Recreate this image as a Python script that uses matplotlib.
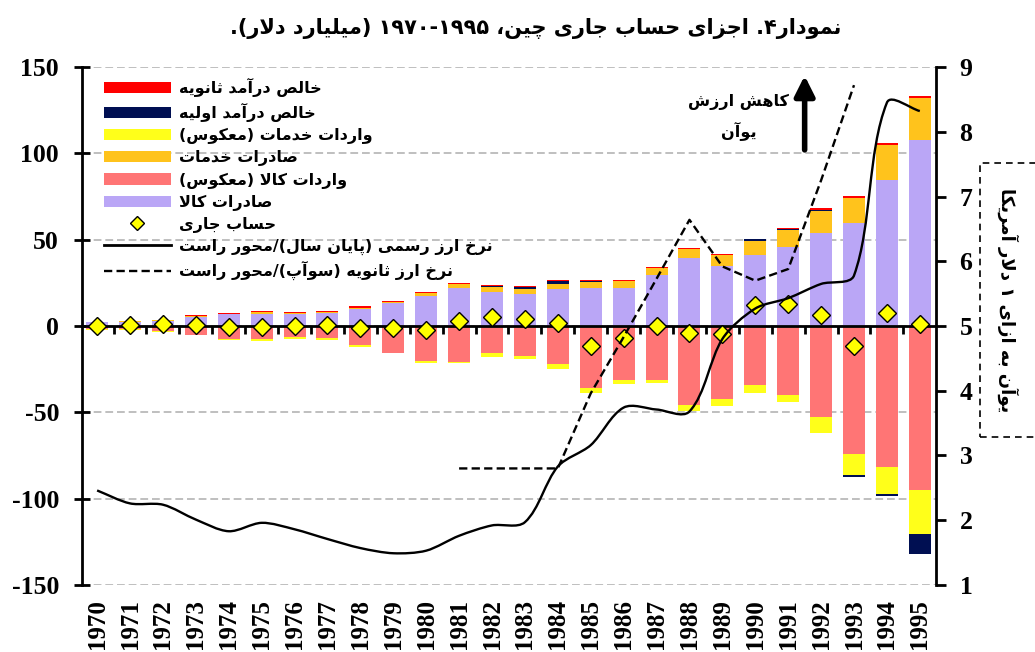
import matplotlib
matplotlib.use('Agg')
import matplotlib.pyplot as plt
import numpy as np
from matplotlib.path import Path
from matplotlib.patches import PathPatch, Rectangle
from matplotlib.lines import Line2D

plt.rcParams['axes.unicode_minus'] = False

# ---------------- data ----------------
years = list(range(1970, 1996))
goods_exports = [2.1, 2.4, 3.0, 5.3, 6.7, 7.2, 6.8, 7.6, 9.7, 13.5, 17.6, 22.2, 19.9,
                 18.7, 21.2, 22.2, 22.0, 29.7, 39.6, 34.7, 40.9, 45.8, 54.1, 59.7, 84.4, 107.5]
services_exports = [0.3, 0.3, 0.4, 0.6, 0.4, 0.8, 0.8, 0.6, 0.9, 0.5, 1.3, 1.9, 2.9,
                    2.9, 3.3, 3.3, 4.1, 4.1, 5.2, 6.2, 8.1, 9.6, 12.5, 14.4, 20.2, 24.5]
primary_income = [0, 0, 0, 0, 0, 0, 0, 0, 0, 0, 0, 0, 0.5,
                  1.2, 1.4, 0.7, 0.0, 0, 0, 0, 1.2, 0.6, 0.5, -1.3, -1.0, -11.5]
secondary_income = [0.1, 0.2, 0.3, 0.5, 0.4, 0.5, 0.3, 0.5, 0.8, 0.5, 1.0, 0.6, 0.5,
                    0.6, 0.5, 0.6, 0.3, 0.4, 0.6, 1.0, 0.4, 1.0, 1.2, 1.4, 1.4, 1.4]
goods_imports = [-1.9, -1.9, -2.9, -5.0, -7.7, -7.7, -6.6, -6.9, -11.0, -15.4, -20.3, -20.7, -15.8,
                 -17.4, -22.0, -36.1, -31.3, -31.3, -45.8, -42.3, -34.2, -40.0, -52.9, -74.3, -81.5, -95.0]
services_imports = [-0.2, -0.6, -0.4, -0.4, -0.4, -1.0, -0.9, -1.2, -1.4, -0.3, -0.9, -0.9, -2.0,
                    -1.9, -2.9, -2.5, -2.3, -1.9, -3.4, -3.8, -4.4, -3.8, -9.3, -12.0, -16.0, -25.5]
current_account = [0.0, 0.4, 1.0, 0.6, -0.8, -0.4, 0.2, 0.6, -1.0, -1.0, -2.1, 2.9, 5.4,
                   3.9, 1.7, -11.6, -6.9, 0.0, -4.1, -4.8, 12.0, 12.9, 6.2, -11.8, 7.5, 1.4]
official_rate = [2.46, 2.26, 2.24, 2.01, 1.83, 1.96, 1.86, 1.71, 1.57, 1.49, 1.53, 1.76, 1.92,
                 1.97, 2.83, 3.16, 3.74, 3.71, 3.68, 4.80, 5.27, 5.43, 5.65, 5.78, 8.45, 8.32]
swap_years = list(range(1981, 1994))
swap_rate = [2.8, 2.8, 2.8, 2.8, 3.96, 4.83, 5.73, 6.64, 5.92, 5.70, 5.88, 7.25, 8.72]

title_text = "نمودار۴. اجزای حساب جاری چین، ۱۹۷۰-۱۹۹۵ (میلیارد دلار)."
legend_labels = ["خالص درآمد ثانویه", "خالص درآمد اولیه", "واردات خدمات (معکوس)",
                 "صادرات خدمات", "واردات کالا (معکوس)", "صادرات کالا", "حساب جاری",
                 "نرخ ارز رسمی (پایان سال)/محور راست", " نرخ ارز ثانویه (سوآپ)/محور راست"]
annot_lines = ["کاهش ارزش", "یوآن"]
right_label = "یوآن به ازای ۱ دلار آمریکا"

c_goods_exp = '#BAA6F6'
c_goods_imp = '#FF7575'
c_serv_exp = '#FFC31C'
c_serv_imp = '#FFFF1A'
c_prim = '#000F52'
c_sec = '#FF0000'

# ---------------- Persian shaping (presentation forms + RTL order) ----------------
FORMS = {
    'ا': ('\uFE8D', '\uFE8E', None, None), 'آ': ('\uFE81', '\uFE82', None, None),
    'ب': ('\uFE8F', '\uFE90', '\uFE91', '\uFE92'), 'پ': ('\uFB56', '\uFB57', '\uFB58', '\uFB59'),
    'ت': ('\uFE95', '\uFE96', '\uFE97', '\uFE98'), 'ث': ('\uFE99', '\uFE9A', '\uFE9B', '\uFE9C'),
    'ج': ('\uFE9D', '\uFE9E', '\uFE9F', '\uFEA0'), 'چ': ('\uFB7A', '\uFB7B', '\uFB7C', '\uFB7D'),
    'ح': ('\uFEA1', '\uFEA2', '\uFEA3', '\uFEA4'), 'خ': ('\uFEA5', '\uFEA6', '\uFEA7', '\uFEA8'),
    'د': ('\uFEA9', '\uFEAA', None, None), 'ذ': ('\uFEAB', '\uFEAC', None, None),
    'ر': ('\uFEAD', '\uFEAE', None, None), 'ز': ('\uFEAF', '\uFEB0', None, None),
    'ژ': ('\uFB8A', '\uFB8B', None, None),
    'س': ('\uFEB1', '\uFEB2', '\uFEB3', '\uFEB4'), 'ش': ('\uFEB5', '\uFEB6', '\uFEB7', '\uFEB8'),
    'ص': ('\uFEB9', '\uFEBA', '\uFEBB', '\uFEBC'), 'ض': ('\uFEBD', '\uFEBE', '\uFEBF', '\uFEC0'),
    'ط': ('\uFEC1', '\uFEC2', '\uFEC3', '\uFEC4'), 'ظ': ('\uFEC5', '\uFEC6', '\uFEC7', '\uFEC8'),
    'ع': ('\uFEC9', '\uFECA', '\uFECB', '\uFECC'), 'غ': ('\uFECD', '\uFECE', '\uFECF', '\uFED0'),
    'ف': ('\uFED1', '\uFED2', '\uFED3', '\uFED4'), 'ق': ('\uFED5', '\uFED6', '\uFED7', '\uFED8'),
    'ک': ('\uFB8E', '\uFB8F', '\uFB90', '\uFB91'), 'گ': ('\uFB92', '\uFB93', '\uFB94', '\uFB95'),
    'ل': ('\uFEDD', '\uFEDE', '\uFEDF', '\uFEE0'), 'م': ('\uFEE1', '\uFEE2', '\uFEE3', '\uFEE4'),
    'ن': ('\uFEE5', '\uFEE6', '\uFEE7', '\uFEE8'), 'و': ('\uFEED', '\uFEEE', None, None),
    'ه': ('\uFEE9', '\uFEEA', '\uFEEB', '\uFEEC'), 'ی': ('\uFBFC', '\uFBFD', '\uFBFE', '\uFBFF'),
}
LAM_ALEF = {'ا': ('\uFEFB', '\uFEFC'), 'آ': ('\uFEF5', '\uFEF6')}


def _dual(ch):
    return ch in FORMS and FORMS[ch][2] is not None


def shape(text):
    out = []
    i = 0
    n = len(text)
    while i < n:
        ch = text[i]
        if ch not in FORMS:
            out.append(ch)
            i += 1
            continue
        prev = text[i - 1] if i > 0 else ''
        nxt = text[i + 1] if i + 1 < n else ''
        jp = _dual(prev)
        if ch == 'ل' and nxt in LAM_ALEF:
            out.append(LAM_ALEF[nxt][1 if jp else 0])
            i += 2
            continue
        jn = _dual(ch) and nxt in FORMS
        iso, fin, ini, med = FORMS[ch]
        if jp and jn:
            out.append(med)
        elif jp:
            out.append(fin)
        elif jn:
            out.append(ini)
        else:
            out.append(iso)
        i += 1
    return ''.join(out)


DIGITS = set('0123456789۰۱۲۳۴۵۶۷۸۹')
MIRROR = {'(': ')', ')': '('}


def fa_line(text):
    s = shape(text)
    runs = []
    i = 0
    n = len(s)
    while i < n:
        if s[i] in DIGITS:
            j = i
            while j < n and (s[j] in DIGITS or (s[j] in '-.' and j + 1 < n and s[j + 1] in DIGITS)):
                j += 1
            runs.append(s[i:j])
            i = j
        else:
            j = i
            while j < n and s[j] not in DIGITS:
                j += 1
            runs.append(''.join(MIRROR.get(c, c) for c in reversed(s[i:j])))
            i = j
    return ''.join(reversed(runs))


def fa(text):
    return '\n'.join(fa_line(t) for t in text.split('\n'))


AR_FONT = 'DejaVu Sans'
NUM_FONT = 'Liberation Serif'


def smooth_path(axis, xs, ys, k=0.3):
    """Excel-like smoothed line: cubic Bezier segments whose control points are
    computed in display space (scaled by neighbouring segment lengths)."""
    tr = axis.transData
    pts = tr.transform(np.column_stack([np.asarray(xs, float), np.asarray(ys, float)]))
    n = len(pts)
    c_in = [None] * n
    c_out = [None] * n
    for i in range(n):
        p = pts[i]
        pa = pts[i - 1] if i > 0 else p
        pb = pts[i + 1] if i + 1 < n else p
        d = pb - pa
        nd = np.hypot(*d)
        u = d / nd if nd > 0 else np.zeros(2)
        c_in[i] = p - u * np.hypot(*(p - pa)) * k
        c_out[i] = p + u * np.hypot(*(pb - p)) * k
    verts = [pts[0]]
    codes = [Path.MOVETO]
    for i in range(n - 1):
        verts += [c_out[i], c_in[i + 1], pts[i + 1]]
        codes += [Path.CURVE4] * 3
    verts = tr.inverted().transform(np.array(verts))
    return Path(verts, codes)


# ---------------- figure ----------------
fig = plt.figure(figsize=(10.35, 6.52), dpi=100)
ax = fig.add_axes([0.0792, 0.1028, 0.9043 - 0.0792, 0.8972 - 0.1028])

x = np.arange(len(years))
w = 0.67
ge = np.array(goods_exports)
se = np.array(services_exports)
pi = np.array(primary_income)
si = np.array(secondary_income)
gi = np.array(goods_imports)
sim = np.array(services_imports)
pi_pos = np.where(pi > 0, pi, 0)
pi_neg = np.where(pi < 0, pi, 0)

b_ge = ax.bar(x, ge, w, color=c_goods_exp, zorder=2)
b_se = ax.bar(x, se, w, bottom=ge, color=c_serv_exp, zorder=2)
b_pi = ax.bar(x, pi_pos, w, bottom=ge + se, color=c_prim, zorder=2)
b_si = ax.bar(x, si, w, bottom=ge + se + pi_pos, color=c_sec, zorder=2)
b_gi = ax.bar(x, gi, w, color=c_goods_imp, zorder=2)
b_sim = ax.bar(x, sim, w, bottom=gi, color=c_serv_imp, zorder=2)
ax.bar(x, pi_neg, w, bottom=gi + sim, color=c_prim, zorder=2)

dia, = ax.plot(x, current_account, ls='none', marker='D', ms=9, mfc='#FFFF00',
               mec='black', mew=1.0, zorder=5)

ax.set_xlim(-0.46, 25.49)
ax.set_ylim(-150, 150)
ax.set_yticks(range(-150, 151, 50))
ax.yaxis.grid(True, color='#BFBFBF', ls=(0, (4, 2)), lw=1.4)
ax.set_axisbelow(True)
for s in ('top', 'right'):
    ax.spines[s].set_visible(False)
ax.spines['left'].set_linewidth(2)
ax.spines['bottom'].set_position(('data', 0))
ax.spines['bottom'].set_linewidth(2)
ax.spines['bottom'].set_zorder(3)
ax.set_xticks(x[:-1] + 0.5, labels=[''] * (len(x) - 1))
ax.tick_params(axis='x', direction='out', length=6, width=2)
ax.tick_params(axis='y', direction='inout', length=11, width=2, pad=11)
for lab in ax.get_yticklabels():
    lab.set_fontfamily(NUM_FONT)
    lab.set_fontweight('bold')
    lab.set_fontsize(18.5)

sec = ax.secondary_xaxis('bottom')
sec.set_xticks(x, labels=[str(y) for y in years], rotation=90)
sec.tick_params(length=0, pad=10)
sec.spines['bottom'].set_visible(False)
for lab in sec.get_xticklabels():
    lab.set_fontfamily(NUM_FONT)
    lab.set_fontweight('bold')
    lab.set_fontsize(18)

ax2 = ax.twinx()
ax2.set_xlim(ax.get_xlim())
ax2.set_ylim(1, 9)
ax2.set_yticks(range(1, 10))
for s in ('top', 'bottom', 'left'):
    ax2.spines[s].set_visible(False)
ax2.spines['right'].set_linewidth(2)
ax2.tick_params(axis='y', direction='out', length=7, width=2, pad=10)
for lab in ax2.get_yticklabels():
    lab.set_fontfamily(NUM_FONT)
    lab.set_fontweight('bold')
    lab.set_fontsize(18.5)

swap_x = [years.index(y) for y in swap_years]
ax2.add_patch(PathPatch(smooth_path(ax2, x, official_rate), fill=False, ec='black',
                        lw=1.7, zorder=4))
ax2.plot(swap_x, swap_rate, color='black', lw=1.7, ls=(0, (3.5, 1.8)), zorder=4)

# legend
handles = [b_si, b_pi, b_sim, b_se, b_gi, b_ge, dia,
           Line2D([], [], color='black', lw=2),
           Line2D([], [], color='black', lw=1.7, ls=(0, (3.5, 1.8)))]
leg = ax.legend(handles, [fa(t) for t in legend_labels], loc='upper left',
                bbox_to_anchor=(0.022, 0.985), frameon=False,
                prop={'family': AR_FONT, 'weight': 'bold', 'size': 11.5},
                handlelength=4.2, handletextpad=0.5, labelspacing=0.38,
                borderaxespad=0, borderpad=0.2, markerscale=0.75)

# annotation
ax.text(19.5, 121, fa('\n'.join(annot_lines)), ha='center', va='center',
        fontsize=11.5, fontweight='bold', family=AR_FONT, linespacing=1.8)
ax.annotate('', xy=(21.5, 145), xytext=(21.5, 102),
            arrowprops=dict(arrowstyle='-|>,head_length=0.6,head_width=0.3',
                            mutation_scale=20, lw=4, color='black', shrinkA=0, shrinkB=0))

# title
fig.text(0.518, 0.957, fa(title_text), ha='center', va='center', fontsize=15,
         fontweight='bold', family=AR_FONT)

# right axis label with dashed box
fig.text(1008 / 1035, 1 - 300 / 652, fa(right_label), rotation=270, ha='center', va='center',
         fontsize=13, fontweight='bold', family=AR_FONT)
fig.add_artist(Rectangle((980 / 1035, (652 - 437) / 652), 0.1, (437 - 163) / 652,
                         transform=fig.transFigure, fill=False, ec='black', lw=1.2,
                         ls=(0, (4, 3)), clip_on=False))

fig.savefig('out.png', dpi=100)
